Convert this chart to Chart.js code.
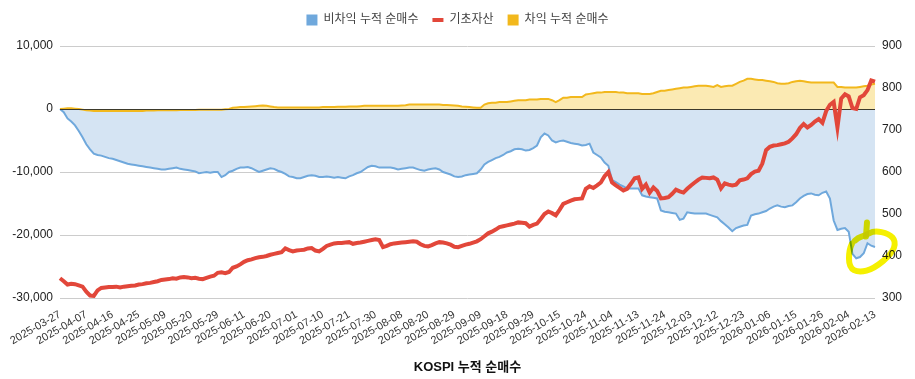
<!DOCTYPE html>
<html lang="ko">
<head>
<meta charset="UTF-8">
<title>KOSPI 누적 순매수</title>
<script src="https://cdn.jsdelivr.net/npm/chart.js"></script>
<style>
    html, body { margin: 0; padding: 0; background: #fff; }
    #wrap { width: 915px; height: 379px; }
</style>
</head>
<body>
<div id="wrap"><canvas id="kospiChart" width="915" height="379"></canvas></div>
<script>
// trading days (KRX), 2025-03-27 .. 2026-02-13
const startDate = '2025-03-27';
const endDate = '2026-02-13';
const holidays = ['2025-05-01', '2025-05-05', '2025-05-06', '2025-06-03', '2025-06-06', '2025-08-15',
    '2025-10-03', '2025-10-06', '2025-10-07', '2025-10-08', '2025-10-09', '2025-12-25', '2025-12-31', '2026-01-01'];

// 비차익 누적 순매수 (left axis)
const nonArbitrage = [
    0, -500, -1500, -2000, -2600, -3500, -4500,
    -5600, -6400, -7100, -7300, -7400, -7600, -7800,
    -7900, -8100, -8300, -8500, -8700, -8800, -8900,
    -9000, -9100, -9200, -9300, -9400, -9500, -9600,
    -9600, -9500, -9400, -9300, -9500, -9600, -9700,
    -9800, -9900, -10200, -10100, -10000, -10100, -10000,
    -10000, -10800, -10500, -10000, -9800, -9500, -9300,
    -9300, -9200, -9400, -9700, -10000, -9800, -9600,
    -9400, -9500, -9800, -10000, -10300, -10700, -10800,
    -11000, -11000, -10800, -10600, -10500, -10600, -10800,
    -10800, -10700, -10800, -10900, -10800, -10900, -11000,
    -10700, -10500, -10200, -10000, -9600, -9200, -9000,
    -9100, -9300, -9300, -9300, -9300, -9400, -9600,
    -9500, -9400, -9300, -9300, -9500, -9700, -9800,
    -9600, -9500, -9400, -9600, -10000, -10200, -10400,
    -10700, -10800, -10700, -10500, -10400, -10300, -10200,
    -9600, -8800, -8400, -8100, -7800, -7600, -7300,
    -6900, -6700, -6400, -6300, -6400, -6600, -6500,
    -6200, -5800, -4500, -3900, -4200, -5000, -5300,
    -5100, -5000, -5200, -5400, -5500, -5600, -5800,
    -5700, -5500, -6900, -7300, -7700, -8500, -9000,
    -11300, -11600, -12000, -12300, -12600, -12600, -12600,
    -12600, -13700, -13900, -14000, -14100, -14200, -16100,
    -16300, -16400, -16500, -16600, -17600, -17400, -16400,
    -16500, -16600, -16600, -16600, -16600, -16800, -17000,
    -17200, -17800, -18300, -18800, -19400, -18900, -18700,
    -18500, -18400, -16900, -16700, -16600, -16400, -16200,
    -15800, -15500, -15300, -15500, -15600, -15400, -15300,
    -14800, -14200, -13800, -13500, -13400, -13600, -13700,
    -13300, -13100, -14200, -17700, -19200, -19000, -18900,
    -19500, -23000, -23700, -23500, -22900, -21300, -21700,
    -21900
];

// 차익 누적 순매수 (left axis)
const arbitrage = [
    0, 50, 100, 100, 50, 0, -100,
    -200, -250, -300, -300, -300, -300, -300,
    -300, -300, -300, -300, -300, -300, -300,
    -300, -300, -250, -250, -250, -200, -200,
    -200, -200, -200, -200, -150, -150, -150,
    -150, -150, -100, -100, -100, -100, -100,
    -100, -100, -50, 0, 200, 250, 300,
    300, 350, 400, 450, 500, 550, 500,
    400, 300, 250, 250, 250, 250, 250,
    250, 250, 250, 250, 250, 250, 250,
    300, 300, 300, 300, 350, 350, 350,
    400, 400, 400, 450, 500, 500, 500,
    500, 500, 500, 500, 500, 500, 500,
    550, 600, 700, 700, 700, 700, 700,
    700, 700, 700, 700, 650, 650, 600,
    550, 500, 400, 350, 300, 250, 200,
    200, 700, 900, 1000, 1000, 1100, 1100,
    1100, 1200, 1300, 1400, 1400, 1400, 1500,
    1500, 1500, 1600, 1600, 1600, 1400, 1100,
    1400, 1800, 1800, 1900, 1900, 1900, 1900,
    2300, 2400, 2500, 2600, 2600, 2700, 2700,
    2700, 2700, 2600, 2600, 2500, 2500, 2500,
    2500, 2400, 2400, 2400, 2500, 2700, 2900,
    2900, 3000, 3100, 3200, 3300, 3400, 3400,
    3500, 3600, 3700, 3700, 3700, 3600, 3500,
    3800, 3500, 3600, 3700, 3700, 4000, 4300,
    4500, 4800, 4800, 4700, 4600, 4600, 4500,
    4400, 4300, 4100, 4000, 4000, 4100, 4300,
    4400, 4500, 4400, 4300, 4200, 4200, 4200,
    4200, 4200, 4200, 4200, 3500, 3500, 3400,
    3400, 3400, 3400, 3500, 3600, 3700, 3900,
    4000
];

// 기초자산 (right axis)
const baseAsset = [
    347, 340, 332, 334, 333, 330, 327,
    315, 306, 305, 318, 324, 325, 326,
    326, 327, 325, 327, 328, 329, 330,
    332, 333, 335, 336, 338, 340, 343,
    344, 345, 347, 346, 349, 350, 349,
    347, 348, 346, 345, 348, 351, 353,
    360, 361, 359, 362, 372, 375, 380,
    386, 390, 392, 395, 397, 398, 400,
    403, 405, 407, 409, 418, 414, 411,
    413, 414, 415, 418, 419, 413, 411,
    417, 424, 427, 430, 431, 431, 432,
    433, 429, 431, 432, 434, 436, 438,
    440, 438, 421, 424, 428, 430, 431,
    432, 433, 434, 435, 434, 428, 424,
    423, 426, 430, 433, 432, 430, 427,
    422, 421, 424, 427, 429, 432, 435,
    440, 447, 454, 458, 463, 469, 471,
    473, 475, 477, 480, 479, 478, 470,
    474, 477, 488, 500, 506, 502, 497,
    510, 524, 528, 532, 535, 536, 537,
    560, 566, 562, 568, 575, 590, 600,
    575, 568, 562, 556, 560, 572, 585,
    587, 560, 570, 551, 563, 555, 537,
    538, 540, 548, 558, 554, 551, 560,
    568, 575, 582, 587, 586, 585, 587,
    582, 561, 573, 570, 568, 570, 580,
    582, 585, 595, 601, 603, 620, 652,
    660, 663, 664, 666, 668, 672, 680,
    690, 705, 714, 706, 712, 720, 726,
    717, 745, 760, 767, 706, 775, 785,
    780, 752, 750, 778, 783, 795, 818,
    815
];

const seriesNames = ['비차익 누적 순매수', '기초자산', '차익 누적 순매수'];
const leftTicks = [-30000, -20000, -10000, 0, 10000];
const rightTicks = [300, 400, 500, 600, 700, 800, 900];
const labelStep = 7;   // a date label every 7 trading days

// highlighter loop near the last days
const markIndex = 213;
const markValue = -22000;

function tradingDays(from, to) {
    const out = [];
    const d = new Date(from + 'T00:00:00Z');
    const end = new Date(to + 'T00:00:00Z');
    while (d <= end) {
        const s = d.toISOString().slice(0, 10);
        const wd = d.getUTCDay();
        if (wd !== 0 && wd !== 6 && !holidays.includes(s)) out.push(s);
        d.setUTCDate(d.getUTCDate() + 1);
    }
    return out;
}
const labels = tradingDays(startDate, endDate);

const FONT = '"Liberation Sans", "Noto Sans CJK KR", Arial, sans-serif';
const BLUE = '#6fa8dc';
const RED = '#e2473a';
const YELLOW = '#f2b81c';

// extra room under the legend
const legendGap = {
    id: 'legendGap',
    beforeInit(chart) {
        const fit = chart.legend.fit;
        chart.legend.fit = function () {
            fit.call(this);
            this.height += 10;
        };
    }
};

// dark zero line, drawn after the areas but under the red line
const zeroLine = {
    id: 'zeroLine',
    afterDatasetDraw(chart, args) {
        if (args.index !== 2) return;
        const ctx = chart.ctx;
        const y = Math.round(chart.scales.y.getPixelForValue(0)) + 0.5;
        ctx.save();
        ctx.strokeStyle = '#3d3a2c';
        ctx.lineWidth = 1;
        ctx.beginPath();
        ctx.moveTo(chart.chartArea.left, y);
        ctx.lineTo(chart.chartArea.right, y);
        ctx.stroke();
        ctx.restore();
    }
};

// yellow marker scribble
const highlighter = {
    id: 'highlighter',
    afterDraw(chart) {
        const ctx = chart.ctx;
        const x0 = chart.scales.x.getPixelForValue(markIndex);
        const y0 = chart.scales.y.getPixelForValue(markValue);
        const pts = [[-8, -4], [-11, 2], [-11, 20], [-1, 25], [14, 21], [32, 6], [36, -6], [29, -14], [14, -17], [5, -12], [-2, -10], [-8, -4]];
        ctx.save();
        ctx.globalCompositeOperation = 'multiply';
        ctx.strokeStyle = 'rgb(245,240,0)';
        ctx.lineWidth = 6;
        ctx.lineCap = 'round';
        ctx.lineJoin = 'round';
        ctx.beginPath();
        ctx.moveTo(x0 + pts[0][0], y0 + pts[0][1]);
        for (let i = 1; i < pts.length - 1; i++) {
            const mx = (pts[i][0] + pts[i + 1][0]) / 2, my = (pts[i][1] + pts[i + 1][1]) / 2;
            ctx.quadraticCurveTo(x0 + pts[i][0], y0 + pts[i][1], x0 + mx, y0 + my);
        }
        ctx.stroke();
        ctx.beginPath();
        ctx.moveTo(x0 + 7, y0 - 25);
        ctx.lineTo(x0 + 6, y0 - 11);
        ctx.stroke();
        ctx.restore();
    }
};

new Chart(document.getElementById('kospiChart'), {
    type: 'line',
    data: {
        labels: labels,
        datasets: [{
            label: seriesNames[0],
            data: nonArbitrage,
            yAxisID: 'y',
            borderColor: BLUE,
            backgroundColor: '#d5e4f3',
            borderWidth: 2,
            fill: 'origin',
            pointRadius: 0,
            tension: 0,
            order: 2
        }, {
            label: seriesNames[1],
            data: baseAsset,
            yAxisID: 'y1',
            borderColor: RED,
            backgroundColor: RED,
            borderWidth: 4,
            fill: false,
            pointRadius: 0,
            tension: 0,
            order: 0
        }, {
            label: seriesNames[2],
            data: arbitrage,
            yAxisID: 'y',
            borderColor: YELLOW,
            backgroundColor: '#fbeab3',
            borderWidth: 2,
            fill: 'origin',
            pointRadius: 0,
            tension: 0,
            order: 1
        }]
    },
    options: {
        responsive: false,
        animation: false,
        layout: { padding: { top: 0, right: 0, bottom: 0, left: 0 } },
        plugins: {
            tooltip: { enabled: false },
            legend: {
                position: 'top',
                labels: {
                    usePointStyle: true,
                    boxHeight: 11,
                    pointStyleWidth: 11,
                    padding: 14,
                    color: '#444',
                    font: { family: FONT, size: 12 },
                    sort: (a, b) => a.datasetIndex - b.datasetIndex,
                    generateLabels(chart) {
                        return chart.data.datasets.map((ds, i) => ({
                            text: ds.label,
                            datasetIndex: i,
                            fillStyle: ds.borderColor,
                            strokeStyle: ds.borderColor,
                            lineWidth: i === 1 ? 4 : 0,
                            pointStyle: i === 1 ? 'line' : 'rect',
                            fontColor: '#444',
                            hidden: false
                        }));
                    }
                }
            }
        },
        scales: {
            x: {
                grid: { display: false },
                border: { display: false },
                ticks: {
                    autoSkip: false,
                    minRotation: 30,
                    maxRotation: 30,
                    padding: 2,
                    color: '#333',
                    font: { family: FONT, size: 11 },
                    callback(v, i) { return i % labelStep === 0 ? labels[i] : null; }
                },
                title: {
                    display: true,
                    text: 'KOSPI 누적 순매수',
                    color: '#111',
                    font: { family: FONT, size: 13, weight: 'bold' },
                    padding: { top: 4, bottom: 4 }
                },
                afterFit(scale) { scale.height = 81; }
            },
            y: {
                position: 'left',
                min: leftTicks[0],
                max: leftTicks[leftTicks.length - 1],
                afterBuildTicks(scale) { scale.ticks = leftTicks.map(v => ({ value: v })); },
                grid: { color: '#cccccc', drawTicks: false },
                border: { display: false },
                ticks: {
                    padding: 7,
                    color: '#222',
                    font: { family: FONT, size: 12 },
                    callback: v => v.toLocaleString('en-US')
                },
                afterFit(scale) { scale.width = 60; }
            },
            y1: {
                position: 'right',
                min: rightTicks[0],
                max: rightTicks[rightTicks.length - 1],
                afterBuildTicks(scale) { scale.ticks = rightTicks.map(v => ({ value: v })); },
                grid: { display: false, drawTicks: false },
                border: { display: false },
                ticks: {
                    padding: 7,
                    color: '#222',
                    font: { family: FONT, size: 12 }
                },
                afterFit(scale) { scale.width = 40; }
            }
        }
    },
    plugins: [legendGap, zeroLine, highlighter]
});
</script>
</body>
</html>
